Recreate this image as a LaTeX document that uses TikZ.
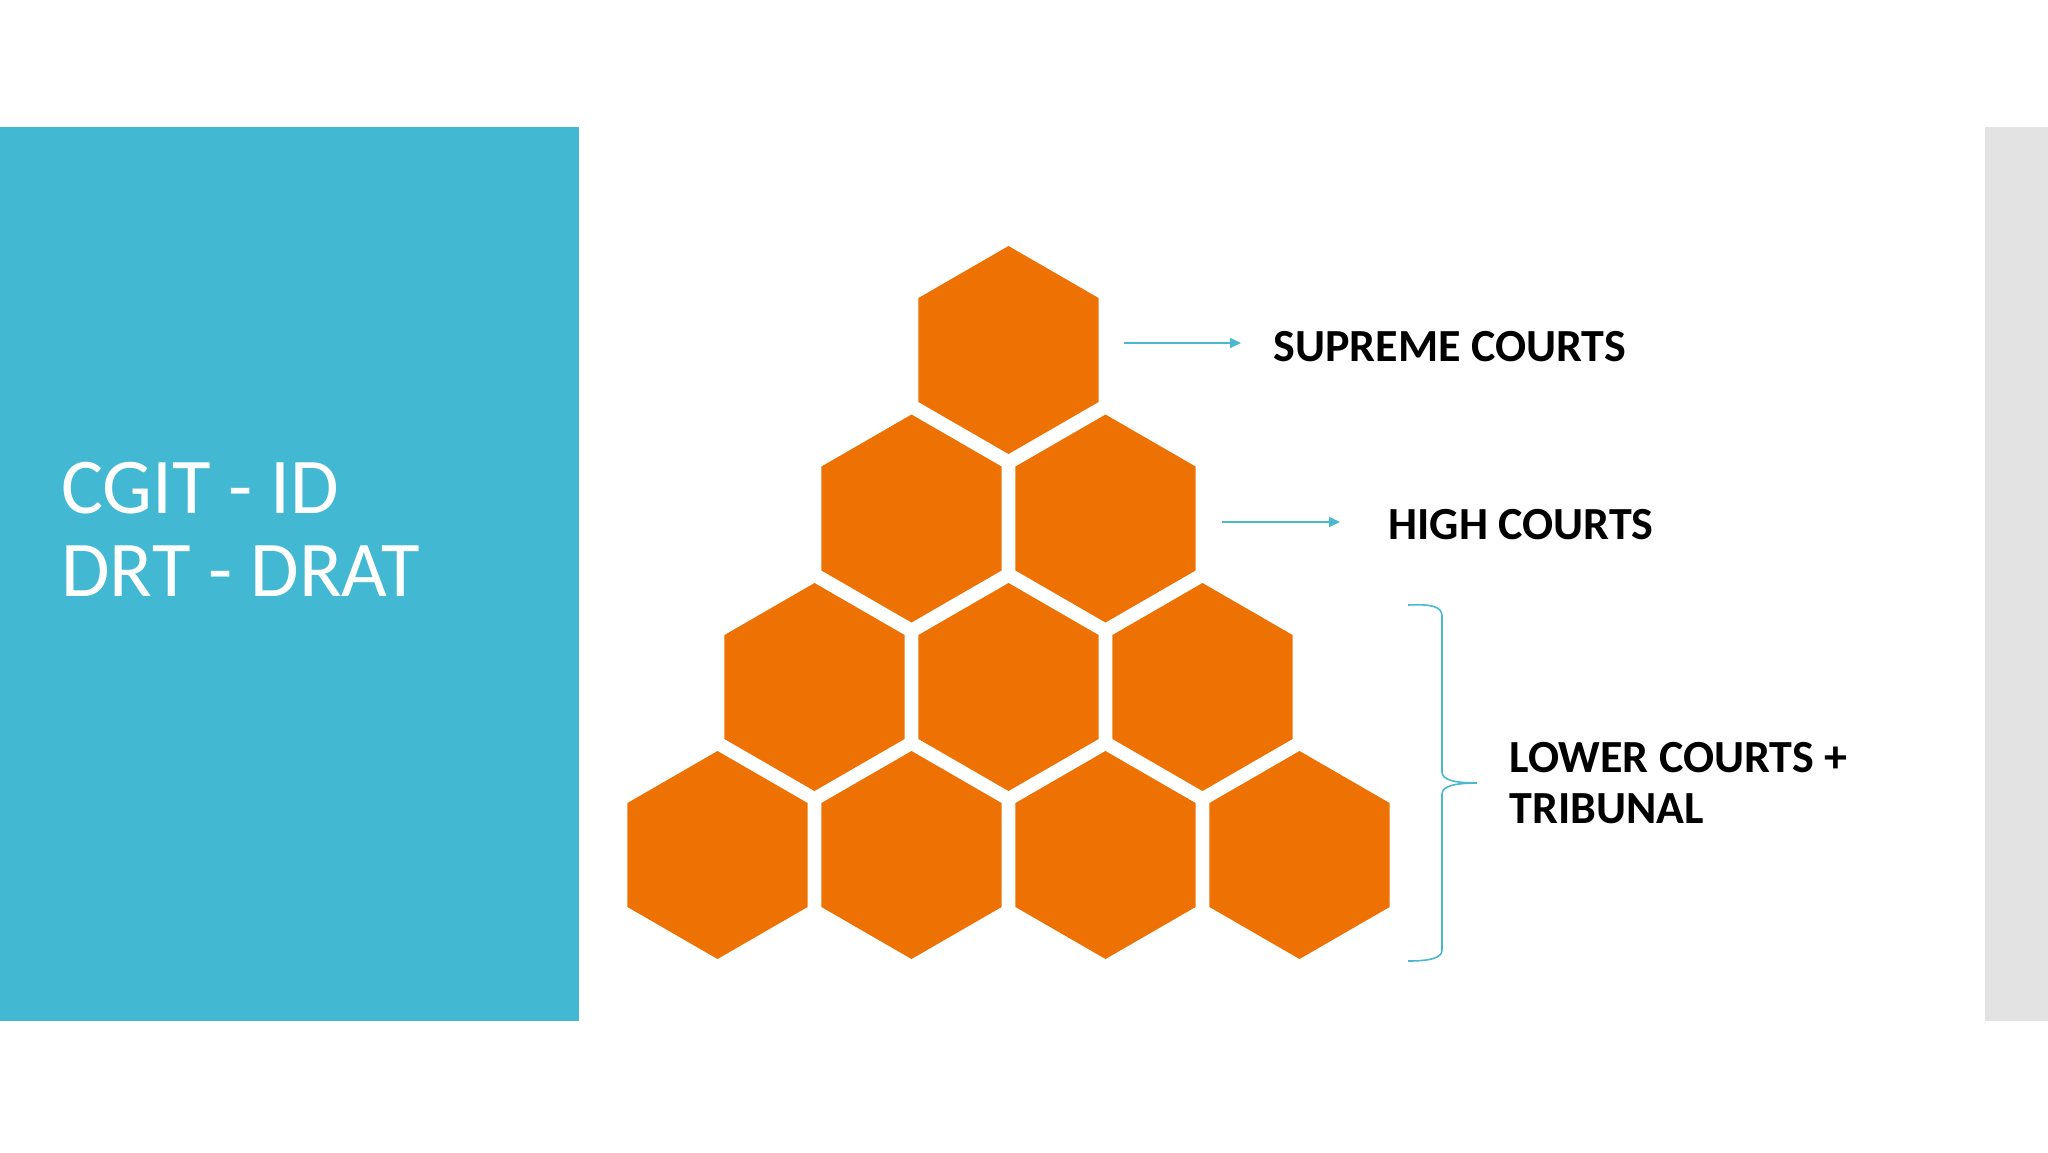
\documentclass[tikz,border=0pt]{standalone}
\usepackage{fontspec}
\setmainfont{Carlito}
\usetikzlibrary{shapes.geometric,arrows.meta}
\definecolor{panelblue}{HTML}{42B8D2}
\definecolor{hexorange}{HTML}{EE7203}
\definecolor{stripgray}{HTML}{E3E3E3}
\definecolor{arrowblue}{HTML}{4AB8CF}
\begin{document}
\begin{tikzpicture}[x=0.5pt,y=-0.5pt,
  hexcell/.style={regular polygon, regular polygon sides=6, shape border rotate=30,
    minimum size=104pt, inner sep=0pt, outer sep=0pt, fill=hexorange, draw=none},
  courtlabel/.style={anchor=base west, inner sep=0pt, align=left,
    font=\bfseries\fontsize{23}{25.5}\selectfont, text=black},
  arr/.style={draw=arrowblue, line width=0.8pt, -{Triangle[length=5.5pt,width=5pt]}},
  bracestyle/.style={draw=arrowblue, line width=0.8pt}]
\useasboundingbox (0,0) rectangle (2048,1152);
\fill[white] (0,0) rectangle (2048,1152);
% side panels
\fill[panelblue] (0,127) rectangle (579,1021);
\fill[stripgray] (1985,127) rectangle (2048,1021);
\node[anchor=base west, inner sep=0pt, align=left, text=white,
  font=\fontsize{39.5}{41.5}\selectfont] (side) at (61,596) {CGIT - ID\\DRT - DRAT};
% hexagons
\node[hexcell] (h1) at (1008.5,350) {};
\node[hexcell] (h21) at (911.5,518.5) {};
\node[hexcell] (h22) at (1105.5,518.5) {};
\node[hexcell] (h31) at (814.5,687) {};
\node[hexcell] (h32) at (1008.5,687) {};
\node[hexcell] (h33) at (1202.5,687) {};
\node[hexcell] (h41) at (717.5,855) {};
\node[hexcell] (h42) at (911.5,855) {};
\node[hexcell] (h43) at (1105.5,855) {};
\node[hexcell] (h44) at (1299.5,855) {};
% labels
\node[courtlabel] (sup) at (1273,361) {SUPREME COURTS};
\node[courtlabel] (high) at (1388,539) {HIGH COURTS};
\node[courtlabel] (low) at (1509,823) {LOWER COURTS +\\TRIBUNAL};
% arrows
\coordinate (a1) at (1124,343);
\coordinate (a2) at (1222,522);
\draw[arr, shorten >=16pt] (a1) -- (a1 -| sup.west);
\draw[arr, shorten >=24pt] (a2) -- (a2 -| high.west);
% brace
\draw[bracestyle] (1408,605) .. controls (1430,604) and (1442,606) .. (1442,616)
  -- (1442,772) .. controls (1442,780) and (1455,783) .. (1477,783)
  .. controls (1455,783) and (1442,786) .. (1442,794)
  -- (1442,950) .. controls (1442,958) and (1430,961) .. (1408,961);
\end{tikzpicture}
\end{document}
